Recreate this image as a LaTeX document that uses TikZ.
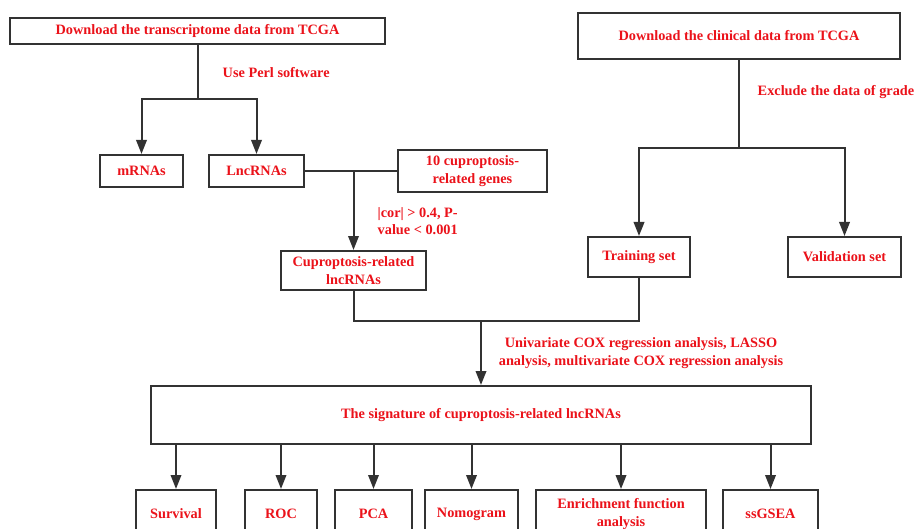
\documentclass[tikz,border=0pt]{standalone}
\usepackage{fontspec}
\setmainfont{Liberation Serif}
\usetikzlibrary{arrows.meta}
\definecolor{tred}{RGB}{235,18,26}
\definecolor{lgray}{RGB}{50,50,50}
\begin{document}
\begin{tikzpicture}[x=1pt,y=-1pt,
  txt/.style={text=tred,font=\fontsize{14.3}{17.5}\selectfont\bfseries},
  box/.style={txt,draw=lgray,line width=2pt,inner sep=0pt,align=center},
  lbl/.style={txt,inner sep=0pt},
  conn/.style={draw=lgray,line width=2pt},
  arr/.style={conn,-{Triangle[length=14pt,width=10.5pt]}}]
\path[use as bounding box] (0,0) rectangle (917,529);
\clip (0,0) rectangle (917,529);
\fill[white] (0,0) rectangle (917,529);
% boxes
\node[box,minimum width=375pt,minimum height=26pt] (b1) at (197.5,31) {Download the transcriptome data from TCGA};
\node[box,minimum width=83pt,minimum height=32pt] (mrna) at (141.5,171) {mRNAs};
\node[box,minimum width=95pt,minimum height=32pt] (lnc) at (256.5,171) {LncRNAs};
\node[box,minimum width=149pt,minimum height=42pt] (genes) at (472.5,171) {10 cuproptosis-\\related genes};
\node[box,minimum width=145pt,minimum height=39pt] (cupro) at (353.5,270.5) {Cuproptosis-related\\lncRNAs};
\node[box,minimum width=322pt,minimum height=46pt] (clin) at (739,36) {Download the clinical data from TCGA};
\node[box,minimum width=102pt,minimum height=40pt] (train) at (639,257) {Training set};
\node[box,minimum width=113pt,minimum height=40pt] (valid) at (844.5,257) {Validation set};
\node[box,minimum width=660pt,minimum height=58pt] (sig) at (481,415) {The signature of cuproptosis-related lncRNAs};
\node[box,minimum width=80pt,minimum height=48pt] (surv) at (176,514) {Survival};
\node[box,minimum width=72pt,minimum height=48pt] (roc) at (281,514) {ROC};
\node[box,minimum width=77pt,minimum height=48pt] (pca) at (373.5,514) {PCA};
\node[box,minimum width=93pt,minimum height=48pt] (nomo) at (471.5,514) {Nomogram};
\node[box,minimum width=170pt,minimum height=48pt] (enr) at (621,514) {Enrichment function\\analysis};
\node[box,minimum width=95pt,minimum height=48pt] (ssg) at (770.5,514) {ssGSEA};
% labels
\node[lbl,anchor=west] (l1) at (222.5,73) {Use Perl software};
\node[lbl,anchor=west,align=left] (l2) at (377.5,221) {|cor| > 0.4, P-\\value < 0.001};
\node[lbl,anchor=west] (l3) at (757.5,92) {Exclude the data of grade};
\node[lbl,align=center] (l4) at (641,353) {Univariate COX regression analysis, LASSO\\analysis, multivariate COX regression analysis};
% connectors
\coordinate (j1) at (b1.south |- 0,99);
\draw[conn] (b1.south) -- (j1);
\draw[arr] (j1) -| (mrna.north);
\draw[arr] (j1) -| (lnc.north);
\draw[conn] (lnc.east) -- (genes.west);
\draw[arr] (lnc.east -| cupro.north) -- (cupro.north);
\coordinate (j2) at (clin.south |- 0,148);
\draw[conn] (clin.south) -- (j2);
\draw[arr] (j2) -| (train.north);
\draw[arr] (j2) -| (valid.north);
\coordinate (j3) at (cupro.south |- 0,321);
\draw[conn] (cupro.south) -- (j3) -| (train.south);
\coordinate (j4) at (sig.north |- j3);
\draw[arr] (j4) -- (sig.north);
\foreach \n in {surv,roc,pca,nomo,enr,ssg}
  \draw[arr] (sig.south -| \n.north) -- (\n.north);
\end{tikzpicture}
\end{document}
